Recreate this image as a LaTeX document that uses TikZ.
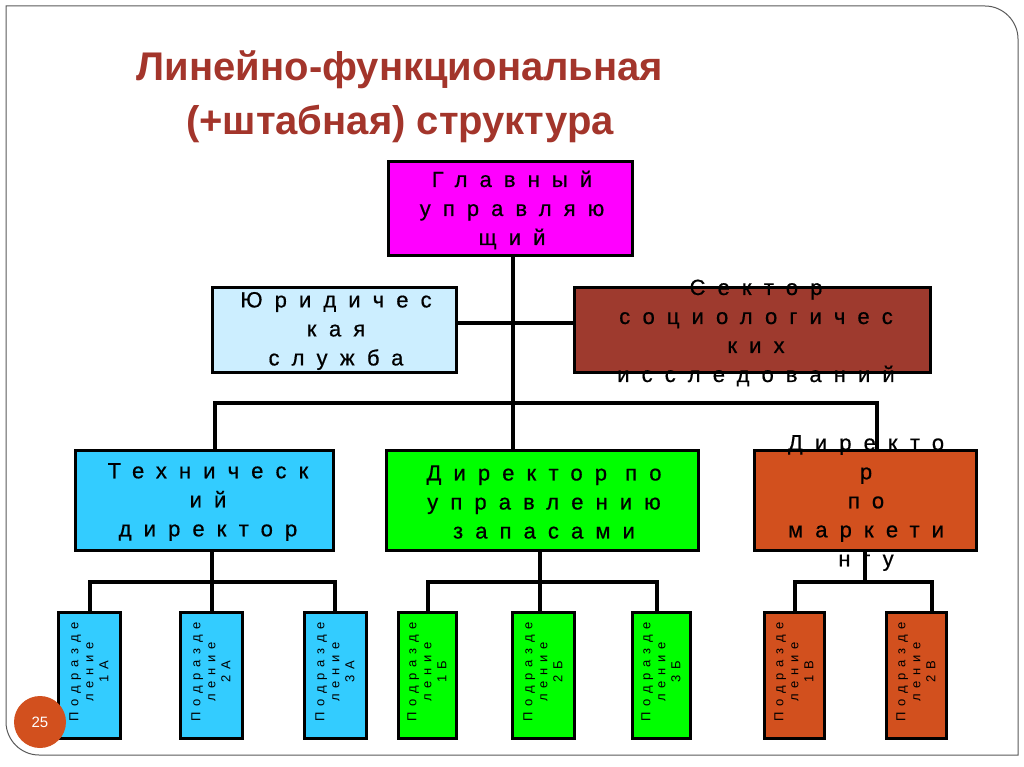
\documentclass[tikz,border=0pt]{standalone}
\usepackage{fontspec}
\setmainfont{Liberation Sans}
\newfontfamily\spc[LetterSpace=55,FakeBold=0.6]{Liberation Sans}
\newfontfamily\spcs[LetterSpace=45]{Liberation Sans}
\definecolor{ttl}{HTML}{A3352B}
\definecolor{mag}{HTML}{FF00FF}
\definecolor{lblue}{HTML}{CCEEFF}
\definecolor{dred}{HTML}{9E3A2E}
\definecolor{cyanb}{HTML}{33CCFF}
\definecolor{grn}{HTML}{00FF00}
\definecolor{orng}{HTML}{D2501E}
\begin{document}
\begin{tikzpicture}[x=1pt,y=-1pt,
 bx/.style={draw=black,line width=3pt},
 ln/.style={line width=3.5pt},
 tx/.style={align=center,font=\spc\fontsize{22}{29}\selectfont},
 sm/.style={align=center,rotate=90,font=\spcs\fontsize{13}{15}\selectfont}]
\useasboundingbox (0,0) rectangle (1024,767);
\draw[gray!70!black,line width=1pt] (6,6) -- (985,6) .. controls (1003,6) and (1018,21) .. (1018,39) -- (1018,755) -- (39,755) .. controls (21,755) and (6,740) .. (6,722) -- cycle;
\node[font=\bfseries\fontsize{40}{54}\selectfont,text=ttl,align=center] (title) at (400,97) {Линейно-функциональная\\(+штабная) структура};
% top boxes
\draw[bx,fill=mag] (388,162) rectangle (632,255); \node[tx] (gl) at (512,210) {Главный\\управляю\\щий};
\draw[bx,fill=lblue] (212,287) rectangle (456,372); \node[tx] (ur) at (336,331) {Юридичес\\кая\\служба};
\draw[bx,fill=dred] (574,287) rectangle (930,372); \node[tx] (sek) at (756,333) {Сектор\\социологичес\\ких\\исследований};
\draw[bx,fill=cyanb] (75,450) rectangle (333,550); \node[tx] (teh) at (208,502) {Техническ\\ий\\директор};
\draw[bx,fill=grn] (386,450) rectangle (698,550); \node[tx] (zap) at (544,502) {Директор по\\управлению\\запасами};
\draw[bx,fill=orng] (754,450) rectangle (976,550); \node[tx] (mar) at (866,503) {Директо\\р\\по\\маркети\\нгу};
% connectors
\coordinate (gb) at (513,255); \coordinate (g1) at (513,450);
\draw[ln] (gb) -- (g1);
\draw[ln] (456,323) -- (574,323);
\draw[ln] (215,450) -- (215,403) -- (877,403) -- (877,450);
\foreach \c/\a/\b in {212/90/335,540/428/657,865/795/932}{
 \draw[ln] (\c,550) -- (\c,582);
 \draw[ln] (\a,612) -- (\a,582) -- (\b,582) -- (\b,612);}
\draw[ln] (540,582) -- (540,612);
\draw[ln] (212,582) -- (212,612);
% bottom boxes
\foreach \xa/\w/\col/\lab in {58/62/cyanb/1А,180/62/cyanb/2А,304/62/cyanb/3А,398/58/grn/1Б,512/62/grn/2Б,632/58/grn/3Б,764/60/orng/1В,886/60/orng/2В}{
 \draw[bx,fill=\col] (\xa,612) rectangle ({\xa+\w},738);
 \node[sm] at ({\xa+\w/2},672) {Подразде\\ление\\\lab};}
\fill[orng] (40,722) circle (26); \node[text=white,font=\fontsize{15}{17}\selectfont] (pg) at (40,722) {25};
\end{tikzpicture}
\end{document}
